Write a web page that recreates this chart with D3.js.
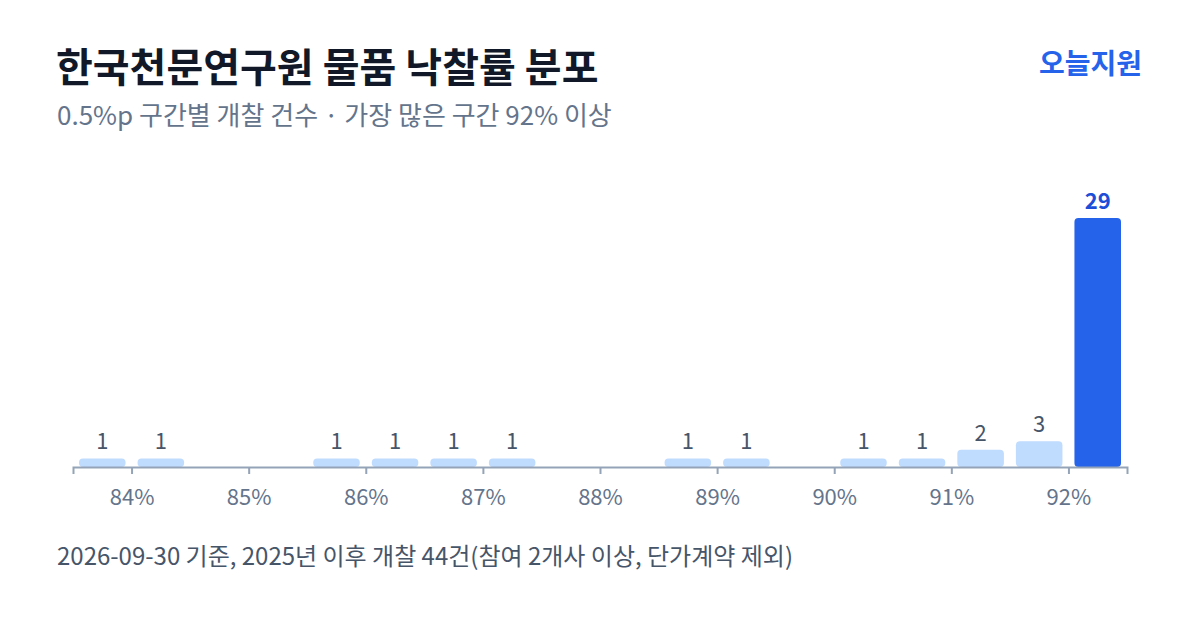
<!DOCTYPE html>
<html><head><meta charset="utf-8">
<script src="https://cdn.jsdelivr.net/npm/d3@7"></script>
<style>
html,body{margin:0;padding:0;background:#fff;}
svg{display:block;font-family:"Noto Sans CJK KR","Noto Sans",sans-serif;}
</style></head>
<body>
<svg id="c" width="1200" height="630"></svg>
<script>
const binStarts = [83.5,84,84.5,85,85.5,86,86.5,87,87.5,88,88.5,89,89.5,90,90.5,91,91.5,92];
const counts    = [1,1,0,0,1,1,1,1,0,0,1,1,0,1,1,2,3,29];
const tickValues = [84,85,86,87,88,89,90,91,92];
const titleText = "한국천문연구원 물품 낙찰률 분포";
const subtitleText = "0.5%p 구간별 개찰 건수 · 가장 많은 구간 92% 이상";
const brandText = "오늘지원";
const footerText = "2026-09-30 기준, 2025년 이후 개찰 44건(참여 2개사 이상, 단가계약 제외)";

const svg = d3.select("#c");
const binW = 0.5;
const data = binStarts.map((s,i)=>({s, v: counts[i]}));
const maxV = d3.max(counts);

const x = d3.scaleLinear().domain([83.5, 92.5]).range([73, 1127]);
const y = d3.scaleLinear().domain([0, 29]).range([467, 218]);

svg.append("text").attr("x",56).attr("y",82).attr("font-size",40).attr("font-weight",700)
  .attr("fill","#111827").text(titleText);
svg.append("text").attr("x",57).attr("y",125).attr("font-size",26).attr("fill","#64748b").text(subtitleText);
svg.append("text").attr("x",1142).attr("y",74).attr("text-anchor","end").attr("font-size",28).attr("font-weight",700)
  .attr("fill","#2563eb").text(brandText);
svg.append("text").attr("x",57).attr("y",565).attr("font-size",24).attr("fill","#475569").text(footerText);

const pad = 6;
const bars = data.filter(d=>d.v>0);
svg.append("g").selectAll("rect").data(bars).join("rect")
  .attr("x", d=>x(d.s)+pad)
  .attr("width", d=>x(d.s+binW)-x(d.s)-2*pad)
  .attr("y", d=>y(d.v))
  .attr("height", d=>y(0)-y(d.v))
  .attr("rx",4).attr("ry",4)
  .attr("fill", d=>d.v===maxV ? "#2563eb" : "#bfdbfe");

svg.append("g").selectAll("text").data(bars).join("text")
  .attr("x", d=>x(d.s+binW/2))
  .attr("y", d=>y(d.v)-9)
  .attr("text-anchor","middle")
  .attr("font-size",22)
  .attr("font-weight", d=>d.v===maxV?700:400)
  .attr("fill", d=>d.v===maxV ? "#1d4ed8" : "#475569")
  .text(d=>d.v);

const ax = svg.append("g").attr("transform","translate(0,467)")
  .call(d3.axisBottom(x).tickValues(tickValues).tickSize(7).tickPadding(15).tickFormat(d=>d+"%"));
ax.select(".domain").attr("stroke","#94a3b8").attr("stroke-width",2);
ax.selectAll(".tick line").attr("stroke","#94a3b8").attr("stroke-width",2);
ax.selectAll(".tick text").attr("font-size",22).attr("fill","#64748b")
  .attr("font-family",'"Noto Sans CJK KR","Noto Sans",sans-serif');
</script>
</body></html>
